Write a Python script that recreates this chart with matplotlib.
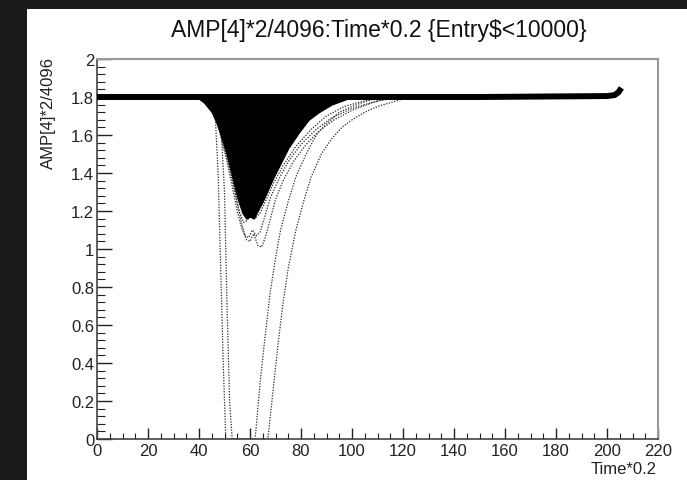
import numpy as np
import matplotlib
matplotlib.use("Agg")
import matplotlib.pyplot as plt
from matplotlib.patches import Rectangle
from matplotlib.ticker import MultipleLocator, FuncFormatter

plt.rcParams['font.family'] = ['Liberation Sans', 'DejaVu Sans']

# baseline band (all waveforms sit at ~1.8 outside the pulse)
base_x = [0, 50, 100, 150, 200, 203, 204.5, 205]
base_y = [1.80, 1.80, 1.80, 1.80, 1.805, 1.81, 1.825, 1.835]

# lower edge of the dense pulse region
env_x = [39, 42, 45, 47, 49, 51, 53, 55, 57, 58.5, 60, 61.5, 63, 65, 67, 69,
         72, 75, 79, 83, 87, 92, 98, 106, 114]
env_y = [1.80, 1.77, 1.72, 1.66, 1.58, 1.49, 1.38, 1.27, 1.19, 1.16, 1.17, 1.16,
         1.20, 1.25, 1.31, 1.37, 1.45, 1.53, 1.61, 1.68, 1.72, 1.76, 1.79, 1.80, 1.80]

# single waveforms outside the dense region
trace_a_x = [46, 47.5, 48.5, 49.5, 50.5, 55, 60, 62, 64, 66, 68, 70, 72, 75, 78, 82, 86,
             90, 95, 100, 106, 112]
trace_a_y = [1.80, 1.40, 0.90, 0.40, 0.0, 0.0, 0.0, 0.0, 0.30, 0.55, 0.78, 0.95,
             1.10, 1.25, 1.38, 1.50, 1.60, 1.66, 1.72, 1.75, 1.78, 1.80]

trace_b_x = [48, 50, 51, 52, 53, 60, 67, 69, 71, 73, 75, 78, 81, 84, 88, 92, 96,
             100, 105, 110, 115, 120, 125]
trace_b_y = [1.80, 1.30, 0.70, 0.20, 0.0, 0.0, 0.0, 0.25, 0.50, 0.72, 0.90, 1.10,
             1.25, 1.38, 1.50, 1.58, 1.64, 1.68, 1.72, 1.75, 1.77, 1.79, 1.80]

trace_c_x = [44, 48, 51, 53, 55, 56.5, 58, 59.5, 61, 62.5, 64, 66, 68, 71, 75, 80,
             86, 92, 100, 110, 120]
trace_c_y = [1.80, 1.62, 1.46, 1.33, 1.20, 1.12, 1.07, 1.06, 1.10, 1.07, 1.09, 1.18,
             1.27, 1.36, 1.46, 1.55, 1.63, 1.69, 1.74, 1.78, 1.80]

trace_d_x = [46, 50, 53, 55, 57, 58.5, 60, 61.5, 63, 64.5, 66, 68, 70, 73, 77, 82,
             87, 93, 100, 108, 116]
trace_d_y = [1.80, 1.55, 1.38, 1.24, 1.12, 1.05, 1.04, 1.08, 1.02, 1.01, 1.06, 1.16,
             1.26, 1.36, 1.46, 1.55, 1.62, 1.68, 1.73, 1.77, 1.80]

trace_e_x = [45, 49, 52, 54, 56, 57.5, 59, 60.5, 62, 64, 66, 69, 73, 78, 84, 90,
             97, 105, 112]
trace_e_y = [1.80, 1.58, 1.42, 1.30, 1.19, 1.14, 1.15, 1.20, 1.16, 1.19, 1.25, 1.34,
             1.44, 1.54, 1.63, 1.70, 1.75, 1.78, 1.80]

traces = [(trace_a_x, trace_a_y), (trace_b_x, trace_b_y), (trace_c_x, trace_c_y),
          (trace_d_x, trace_d_y), (trace_e_x, trace_e_y)]

W, H = 687, 481
fig = plt.figure(figsize=(W / 100, H / 100), dpi=100)
fig.patch.set_facecolor('#1b1b1b')
fig.patches.append(Rectangle((27 / W, 0), 1, 1 - 10 / H, transform=fig.transFigure,
                             facecolor='white', edgecolor='none', zorder=-1))

ax = fig.add_axes([97 / W, (H - 440) / H, (658 - 97) / W, (440 - 60) / H])
ax.set_facecolor('white')

ax.fill_between(env_x, env_y, 1.81, color='black', lw=0.8, zorder=3)
ax.plot(base_x, base_y, color='black', lw=4.3, zorder=4)
for tx, ty in traces:
    ax.plot(tx, ty, color='#2a2a2a', lw=0.9, ls=(0, (1, 1.2)), zorder=2)

ax.set_xlim(0, 220)
ax.set_ylim(0, 2)

ax.xaxis.set_major_locator(MultipleLocator(20))
ax.xaxis.set_minor_locator(MultipleLocator(5))
ax.yaxis.set_major_locator(MultipleLocator(0.2))
ax.yaxis.set_minor_locator(MultipleLocator(0.04))
fmt = FuncFormatter(lambda v, p: '%g' % round(v, 2))
ax.xaxis.set_major_formatter(fmt)
ax.yaxis.set_major_formatter(fmt)

ax.tick_params(axis='both', which='both', direction='in', top=False, right=False,
               labelsize=12, colors='#222222')
ax.tick_params(axis='y', which='major', length=11, width=1, pad=2)
ax.tick_params(axis='y', which='minor', length=6, width=0.8)
ax.tick_params(axis='x', which='major', length=8, width=1, pad=3)
ax.tick_params(axis='x', which='minor', length=4, width=0.8)

for side in ['left', 'bottom']:
    ax.spines[side].set_color('#444444')
    ax.spines[side].set_linewidth(1.2)
for side in ['top', 'right']:
    ax.spines[side].set_color('#999999')
    ax.spines[side].set_linewidth(1.5)

fig.text(379 / W, 1 - 31 / H, 'AMP[4]*2/4096:Time*0.2 {Entry$<10000}',
         ha='center', va='center', fontsize=16.5, color='#111111')
fig.text(48 / W, 1 - 57 / H, 'AMP[4]*2/4096', rotation=90, ha='center', va='top',
         fontsize=12, color='#222222')
fig.text(657 / W, 1 - 470 / H, 'Time*0.2', ha='right', va='center',
         fontsize=12, color='#222222')

fig.savefig('out.png', dpi=100, facecolor=fig.get_facecolor())
